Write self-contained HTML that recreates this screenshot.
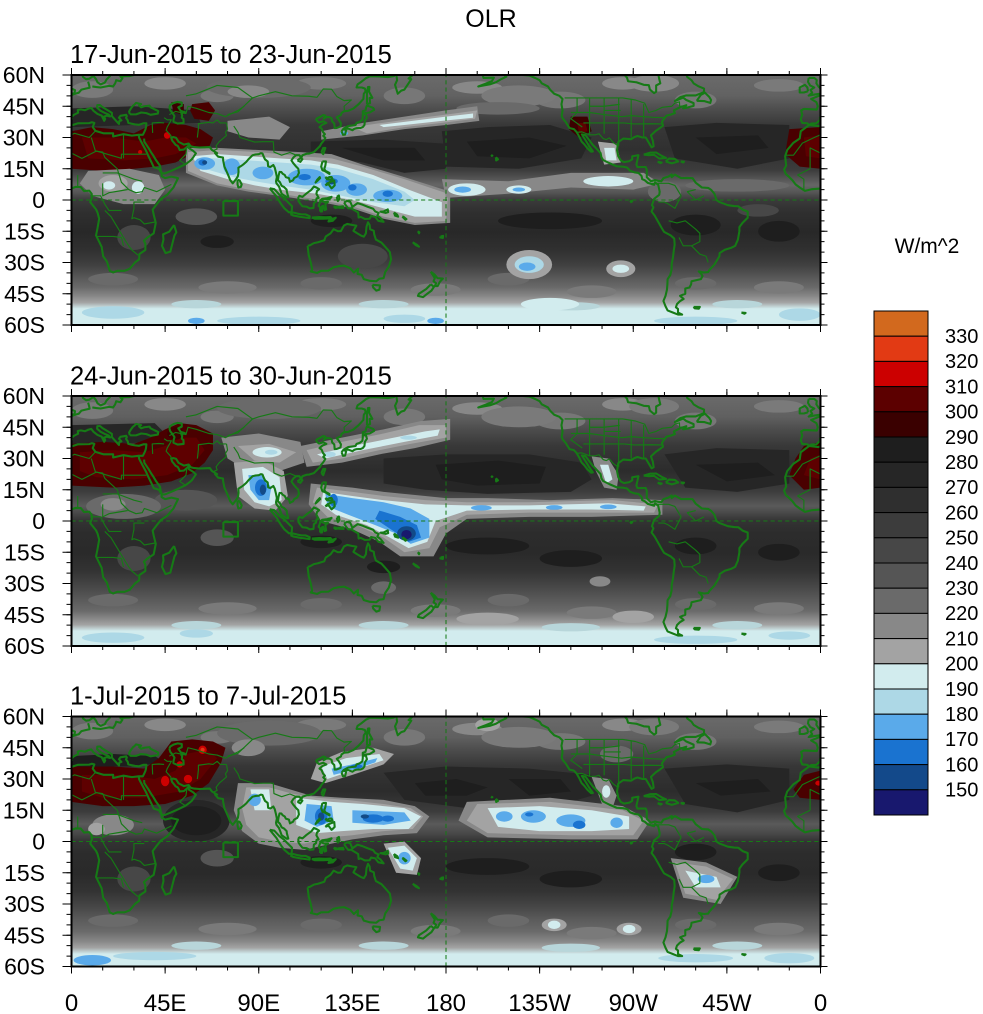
<!DOCTYPE html>
<html><head><meta charset="utf-8"><style>
html,body{margin:0;padding:0;background:#fff;}
svg{display:block;font-family:"Liberation Sans",Arial,sans-serif;}
</style></head><body>
<svg width="983" height="1014" viewBox="0 0 983 1014" xmlns="http://www.w3.org/2000/svg">
<defs>
<linearGradient id="g1" gradientUnits="userSpaceOnUse" x1="0" y1="60" x2="0" y2="-60">
<stop offset="0" stop-color="#6a6a6a"/><stop offset="0.083" stop-color="#626262"/><stop offset="0.13" stop-color="#505050"/>
<stop offset="0.2" stop-color="#383838"/><stop offset="0.3" stop-color="#303030"/><stop offset="0.38" stop-color="#3c3c3c"/>
<stop offset="0.44" stop-color="#666"/><stop offset="0.47" stop-color="#555"/><stop offset="0.5" stop-color="#3a3a3a"/>
<stop offset="0.55" stop-color="#2f2f2f"/><stop offset="0.63" stop-color="#282828"/><stop offset="0.7" stop-color="#303030"/>
<stop offset="0.76" stop-color="#404040"/><stop offset="0.81" stop-color="#585858"/><stop offset="0.85" stop-color="#6a6a6a"/>
<stop offset="0.885" stop-color="#888"/><stop offset="0.91" stop-color="#a3a3a3"/><stop offset="0.935" stop-color="#d2ecee"/><stop offset="1" stop-color="#d2ecee"/>
</linearGradient>
<linearGradient id="g2" gradientUnits="userSpaceOnUse" x1="0" y1="60" x2="0" y2="-60">
<stop offset="0" stop-color="#6a6a6a"/><stop offset="0.083" stop-color="#606060"/><stop offset="0.13" stop-color="#4e4e4e"/>
<stop offset="0.2" stop-color="#383838"/><stop offset="0.3" stop-color="#2c2c2c"/><stop offset="0.38" stop-color="#3c3c3c"/>
<stop offset="0.44" stop-color="#5a5a5a"/><stop offset="0.47" stop-color="#474747"/><stop offset="0.5" stop-color="#333"/>
<stop offset="0.55" stop-color="#2c2c2c"/><stop offset="0.63" stop-color="#2a2a2a"/><stop offset="0.7" stop-color="#333"/>
<stop offset="0.76" stop-color="#464646"/><stop offset="0.81" stop-color="#585858"/><stop offset="0.86" stop-color="#6a6a6a"/>
<stop offset="0.89" stop-color="#888"/><stop offset="0.915" stop-color="#a3a3a3"/><stop offset="0.94" stop-color="#d2ecee"/><stop offset="1" stop-color="#d2ecee"/>
</linearGradient>
<linearGradient id="g3" gradientUnits="userSpaceOnUse" x1="0" y1="60" x2="0" y2="-60">
<stop offset="0" stop-color="#6a6a6a"/><stop offset="0.083" stop-color="#606060"/><stop offset="0.13" stop-color="#4e4e4e"/>
<stop offset="0.2" stop-color="#363636"/><stop offset="0.3" stop-color="#2c2c2c"/><stop offset="0.38" stop-color="#3c3c3c"/>
<stop offset="0.43" stop-color="#5a5a5a"/><stop offset="0.47" stop-color="#474747"/><stop offset="0.5" stop-color="#333"/>
<stop offset="0.55" stop-color="#2c2c2c"/><stop offset="0.63" stop-color="#2a2a2a"/><stop offset="0.7" stop-color="#333"/>
<stop offset="0.76" stop-color="#464646"/><stop offset="0.81" stop-color="#5a5a5a"/><stop offset="0.86" stop-color="#6a6a6a"/>
<stop offset="0.9" stop-color="#888"/><stop offset="0.925" stop-color="#a3a3a3"/><stop offset="0.95" stop-color="#d2ecee"/><stop offset="1" stop-color="#d2ecee"/>
</linearGradient>
<clipPath id="c1"><rect x="71.5" y="75" width="749" height="250"/></clipPath>
<clipPath id="c2"><rect x="71.5" y="396" width="749" height="250"/></clipPath>
<clipPath id="c3"><rect x="71.5" y="716.5" width="749" height="250"/></clipPath>

<g id="tex">
<ellipse cx="10" cy="53" rx="10" ry="4" fill="#7a7a7a"/><ellipse cx="45" cy="56" rx="10" ry="3" fill="#888"/>
<ellipse cx="70" cy="50" rx="8" ry="3" fill="#777"/><ellipse cx="120" cy="56" rx="12" ry="3" fill="#7a7a7a"/>
<ellipse cx="160" cy="50" rx="10" ry="4" fill="#777"/><ellipse cx="195" cy="54" rx="12" ry="3" fill="#888"/>
<ellipse cx="235" cy="48" rx="12" ry="4" fill="#777"/><ellipse cx="265" cy="56" rx="10" ry="3" fill="#888"/>
<ellipse cx="300" cy="48" rx="10" ry="4" fill="#777"/><ellipse cx="340" cy="55" rx="12" ry="3" fill="#7a7a7a"/>
<ellipse cx="20" cy="-38" rx="12" ry="3" fill="#6a6a6a"/><ellipse cx="75" cy="-42" rx="14" ry="3" fill="#7a7a7a"/>
<ellipse cx="120" cy="-40" rx="10" ry="3" fill="#6a6a6a"/><ellipse cx="175" cy="-43" rx="12" ry="3" fill="#7a7a7a"/>
<ellipse cx="210" cy="-38" rx="10" ry="3" fill="#6a6a6a"/><ellipse cx="250" cy="-44" rx="12" ry="3" fill="#7a7a7a"/>
<ellipse cx="300" cy="-40" rx="10" ry="3" fill="#6a6a6a"/><ellipse cx="340" cy="-42" rx="12" ry="3" fill="#7a7a7a"/>
<ellipse cx="60" cy="-50" rx="12" ry="2" fill="#b8d6da"/><ellipse cx="150" cy="-50" rx="12" ry="2" fill="#b8d6da"/>
<ellipse cx="240" cy="-51" rx="14" ry="2" fill="#b8d6da"/><ellipse cx="320" cy="-50" rx="12" ry="2" fill="#b8d6da"/>
</g>

<g id="coast" fill="none" stroke="#167a16" stroke-width="1.0" stroke-linejoin="round">
<polyline points="-5.5,36 -9.5,33 -10,29.5 -13,27.5 -16,24 -17,21 -16.5,16.5 -17.5,14.7 -16.7,12.5 -15,11 -13.5,9.5 -12,7.5 -10,6 -7.5,4.4 -4,5.2 0,5.5 2,6.3 4.5,6.2 6,4.3 8.5,4.5 9.7,3 9.8,1 9,-1 11.8,-4.5 12.5,-6 13.3,-9 12.5,-13.5 11.8,-17 14.5,-22.5 15.2,-27 17,-29.5 18.4,-34 20,-34.8 22,-34 25.5,-34 28,-33 30.5,-30 32.5,-28.5 32.6,-26 35.5,-24 35.5,-21 34.8,-19.5 36.5,-18 39.5,-16 40.5,-11 39.5,-7 39,-4.6 41,-2 43,0.5 46,2.5 49,6 51.2,10.5 48,11.2 45,10.5 43.3,11.5 43.3,12.8 42,15 39.5,15.8 38.5,18 37,21 35.7,23.9 34,27 32.5,29.9 32.3,31.3 29,30.9 25,31.6 20,30.5 20,32 15.5,32 11.5,33.2 10.2,35 11,37 9.8,37.3 8.5,36.9 3,36.8 -1,35.5 -5.5,36"/>
<polyline points="49.3,-12 50.4,-15.5 49.5,-17 47.5,-24.8 45.2,-25.5 43.5,-22 44.2,-19 44,-16.5 47,-15.2 49.3,-12"/>
<polyline points="5.2,60 5.6,59 7,58 8.5,58.2 10.5,59.5 11,59 11.8,58 12.5,56.5 14,55.5 16,56.3 16.8,57.8 18.5,59.5 18,60.5"/>
<polyline points="8,56.8 8.5,55 8.7,53.9 7,53.5 4.8,53 3.5,51.5 1.6,51 -1.5,49.7 -4.5,48.5 -2,47 -1.3,45 -1.8,43.4 -8,43.7 -9.3,43 -8.8,41 -9.5,38.8 -8.8,37 -6.3,36.8 -5.5,36 -4.5,36.7 -2,36.8 -0.5,38.3 0.2,39 -0.3,39.5 1,40.8 3.2,41.9 3,43.2 4.5,43.5 6.5,43.1 8,43.8 9.5,44.2 10.5,42.9 12.5,41.3 14.5,40.5 15.7,38 16.2,38.9 15.6,40 17,40.5 18.5,40.1 17.9,41 16,41.8 14,42.8 12.3,44.3 12.4,45.5 13.7,45.6 15,44.5 17.5,43 19.4,41.8 19.4,40.3 21,38.5 22.8,36.5 23,37.9 24,38.2 22.8,39.5 23.5,40.4 26.3,40.9 26.6,40.3 26.2,39.4 27,38.3 27.3,37 28.5,36.7 30.5,36.3 32.5,36.1 34.5,36.8 36,36.8 35.8,35 35.5,33.8 34.9,32.5 34.3,31.3 32.3,31.3"/>
<polyline points="10,54.5 12,54.2 14,54 18,54.8 20,54.5 21,56 21.5,57.5 23.5,57 24.5,58.5 23.5,59.3 28,59.5 30,60"/>
<polyline points="28,41.2 29,41.1 31,41.1 33.5,42 36,41.7 38,40.9 41.5,41.5 41.7,42.7 40,43.5 38,44.5 37.5,45.3 35,45 33.5,44.5 32.5,45.4 33.5,46 31,46.6 30.3,45.8 29.5,45.2 28.6,44 27.7,42.5 28,41.2"/>
<polyline points="47,44.6 47.5,43 48.5,41.8 49.5,40.3 49,38.5 49,37.6 51,36.7 53.9,37 53.8,38.9 53,39.5 53.2,40.9 52.8,41.5 54.5,42.2 52.5,42.8 51.3,44.5 53,45.3 53,46.8 51,47.1 49,46.5 47.5,45.6 47,44.6"/>
<polyline points="34.9,29.5 35,28 37,25 38.5,22.5 39.2,21.5 40.7,19 42.5,16.5 43,14 43.5,12.7 45,12.8 48,14 52,15.8 55,17.3 56.6,18.5 57.8,19.5 58.5,20.5 59.8,22.4 58.5,23.6 56.4,24.9 56.3,26.2 55.5,25.5 54,24.2 52,24 51.5,25.2 51,26 50,26.5 49.5,27.2 48.4,28.5 47.9,30 49,30.2 50.2,29.9 51.5,27.9 54,26.6 56.3,27.1 57.3,25.8 59,25.4 61.5,25.2 64,25.3 66.5,25.4 67.5,24 68.7,23.3 70,22.5 69,22.5 70.5,20.8 72.8,20.4 72.9,19 73.5,16 74.5,13.8 75.5,11.5 76.3,9.5 77.5,8 78.2,8.9 79.3,10.3 80,11.5 80.3,13.5 80.2,15.5 81.5,16.3 82.5,17 84,18.3 85,19.5 87,21.5 88.2,21.8 89,21.9 90,22 91,22.5 91.8,22.3 92.3,21 93,19.5 94.3,18.5 94.5,16.2 95.5,15.8 97,16.8 97.7,15.5 98.3,13 98.7,11 98.3,9 98.5,8 99.7,6.5 100.3,5 101,3 102.5,2 103.5,1.3 104.2,1.4 103.5,4 103.4,5 102.2,6.2 101,6.8 100.2,8.5 99.2,9.5 99.5,11.5 100,13.5 100.9,13.4 101.5,12.6 102.5,12 103,11 104.5,10.5 105,8.7 106.5,9.5 107,10.5 108.5,11.3 109.3,13 109,15 108,16 106.5,17.8 105.7,19 106.7,20.5 108,21.5 109.5,21.5 110.5,20.3 111,21.5 113,22.2 114.3,22.3 116.5,23 118,24.5 119.5,26 120,27 121,28.2 122,29.8 121,30.8 121.8,31.6 120.9,32.6 120.2,34.3 119.2,35 120.6,36.2 122.5,37 121,37.8 119,37.2 118,38 117.6,38.7 118,39.2 119.5,39.9 121,40.8 122,40.5 121.2,39 122.5,39.8 124,39.8 125,39.2 125.3,37.7 126.3,36.7 126.5,34.5 127.5,34.6 129.3,35.3 129.5,36.8 128.5,38.5 127.5,39.7 129.5,40.8 129.8,41.8 131,42.6 133,42.8 135.5,43.9 138,46 140.3,48.5 140.5,51 141.4,52.2 141,53.5 139.5,54 137,54 137.5,55.5 139,56.5 141.5,58.5 143.5,59.4 148,59.3 152,59 155,59.5 156.5,61"/>
<polyline points="156,61 156.5,57.5 155.5,55.3 156.8,51 158.5,52.5 160,53 162,56 163.3,58 162,58.3 164,60 166,60.3"/>
<polyline points="79.8,9.7 80.8,9.4 81.8,7.5 81.4,6.3 80.2,6 79.8,7.5 79.8,9.7"/>
<polyline points="95.3,5.6 97.5,5.2 100,2.5 102,1 104,-1 106,-3 105.8,-5.8 104.5,-5.9 102.3,-4 101,-2.3 99.5,0 98.5,1.7 97,3.5 95.3,5.6"/>
<polyline points="105.2,-6.8 106.5,-6 108.5,-6.5 110.5,-6.9 112.5,-6.9 114.5,-7.8 114.4,-8.7 110,-8.1 106.5,-7.4 105.2,-6.8"/>
<polyline points="115.5,-8.4 119,-8.2 122,-8.3 124.5,-8.2 125,-8.8 121,-9 117,-9 115.5,-8.4"/>
<polyline points="124,-9.5 127,-8.5 125.5,-10 123.5,-10.3 124,-9.5"/>
<polyline points="109,1.5 109.6,2 111,1.5 113,3.2 115.3,4.9 116.5,6.5 117.7,6 119,5.2 118,4.3 117.7,3 118.8,1 117.8,0.8 117.5,-0.8 116.5,-1.5 116.3,-3.8 114.5,-4 113,-3.2 111,-3 110,-1.8 109.1,-0.5 109,1.5"/>
<polyline points="119.5,-5.5 119.5,-3.5 118.8,-2.8 119.8,0 120.5,0.6 123,0.9 125,1.5 124,0.4 121,0.4 120.2,-0.5 121.5,-1 123.3,-0.9 122,-2 122.4,-4.5 121.6,-4.8 121,-2.8 120.4,-3 120.4,-5.5 119.5,-5.5"/>
<polyline points="127.5,1.5 128.5,2.2 128.8,0.5 128,-0.5 127.5,1.5"/>
<polyline points="126,-3 127,-3.2 128.2,-3.6 126.8,-3.8 126,-3"/>
<polyline points="128,-3.3 130.5,-3 130.8,-3.8 128.5,-3.7 128,-3.3"/>
<polyline points="131,-1.2 132.5,-0.4 134,-0.9 135,-3.3 137.5,-1.5 140,-2.3 142.5,-3.3 145,-4.2 146,-5.5 147.6,-6.2 147,-7.5 148.5,-8.6 150,-10.5 147.5,-10 146,-8.1 144,-7.7 143.3,-9 141,-9.1 139,-8.1 138,-8.4 137.8,-6 134.5,-4 133,-4 132,-2.8 131,-1.2"/>
<polyline points="150,-5.5 152,-4.5 152.2,-5.8 151,-6.2 148.5,-5.6 150,-5.5"/>
<polyline points="155,-6 156.5,-7 157,-8 155.5,-7.5 155,-6"/>
<polyline points="159,-8 160.5,-9.5 161,-9.2 159.5,-8 159,-8"/>
<polyline points="166.5,-15 167.2,-15.5 167,-16 166.5,-15"/>
<polyline points="164,-20.3 166,-21.5 167,-22.4 165.5,-21.7 164,-20.3"/>
<polyline points="177.4,-17.5 178.6,-17.2 178.5,-18.2 177.3,-18 177.4,-17.5"/>
<polyline points="120.6,18.5 122.3,18.5 122,16.5 121.5,15 122,14 124,13 124,12.5 121.7,13.9 120.6,14.3 120,16 120.6,18.5"/>
<polyline points="122,7 123,8 124.5,8.7 126.3,9.3 126.5,7 125.5,6 125,5.6 123.5,7.6 122,7"/>
<polyline points="122,11 123,10.5 124,11 125,11 125.5,10 124,9.8 122.8,10 122,11"/>
<polyline points="118,9 119.5,10.5 119.3,11 118,9.6 117.3,8.4 118,9"/>
<polyline points="120.1,23 121,25 122,25 121,22 120.1,23"/>
<polyline points="108.6,19 110,20.1 111,19.6 110,18.3 108.6,19"/>
<polyline points="129.8,33 130.5,31.3 131.5,31.4 132,33.5 131,34 133,34.3 135,33.5 136,34.2 137,34.5 139,34.6 140,35 140.8,36 141,38 142,39.5 141.5,41.2 140,41.2 140,40 139.8,38.5 138.5,37.5 137,37 136.5,36 133,35.5 130.8,34.3 129.8,33"/>
<polyline points="140,41.5 141,41.7 143.3,42 145.5,43.3 145,44.2 142,45.4 141.6,44.3 141.3,43 140,42.6 140,41.5"/>
<polyline points="142,46 143.5,46.5 143.3,49 144.6,49 143,52 143.2,54.3 142.5,54.2 142,51.5 142,46"/>
<polyline points="113.5,-22 114,-26.5 115,-30 115.7,-33.5 115,-34.3 118,-35 120,-34 123.5,-33.9 126,-32.3 129,-31.7 131,-31.5 134,-32.8 135.7,-34.8 137.7,-33 137.5,-35.5 139.5,-35.9 140.5,-38 143.5,-38.8 146.5,-39 148,-37.8 150,-37.5 150.8,-34.5 152.5,-32 153.6,-28.5 153,-25 150.8,-22.5 149,-20.5 146.3,-19 145.5,-16.5 145.3,-14.8 143.5,-14 143.3,-12 142.5,-10.7 141.8,-12.8 141.5,-16 140.5,-17.6 139,-17 137,-15.8 135.5,-14.8 136.9,-12.3 135,-12 132.5,-11.5 131,-12.2 129.5,-14.9 128,-15 126,-14 124.5,-16 122.2,-17.5 121.5,-19.3 118.5,-20.3 116.5,-20.7 114.5,-21.8 113.5,-22"/>
<polyline points="144.7,-40.7 148.3,-41 148,-43 146.5,-43.5 145,-42 144.7,-40.7"/>
<polyline points="172.7,-34.4 174.5,-35.8 175.9,-37.5 178.5,-37.7 177,-39.3 176,-41.3 174.6,-41.3 175.3,-40 174,-39 174.6,-37.5 173,-35 172.7,-34.4"/>
<polyline points="172.7,-40.5 174.2,-41.7 173,-43.5 171,-45 169,-46.6 166.5,-46 167,-45 170.5,-42.7 172.7,-40.5"/>
<polyline points="-152,60 -151,59.2 -153.5,58 -156,56.5 -159,55.5 -162,55 -164.5,54.5 -161,55.8 -158,57 -157,58.7 -162,58.6 -162.3,60"/>
<polyline points="-148,60.5 -146,60.8 -143,60 -140,59.8 -137,58.5 -135,57.5 -134,56 -131,54.5 -130,53 -128,51 -125.5,50 -124,48.5 -124.5,46 -124,43 -124.4,40.3 -123.8,39 -122.5,37.5 -121.9,36.5 -120.6,34.5 -118.5,34 -117.2,32.6 -116,30.5 -114.8,28 -113.5,26.7 -112,24.8 -110.3,23.2 -109.4,23.3 -110,24.2 -111.3,26 -112.8,28.5 -114.7,31.5 -113,31.2 -111,28.5 -109.5,26.5 -108,25 -105.7,22.5 -105.3,20.5 -104.5,19.2 -101.5,17.7 -98,16.2 -95,16 -93,15.6 -91.5,14 -89.5,13.3 -87.5,13 -86,11.5 -85.7,10 -84.5,9.5 -83,8.2 -80,7.3 -79.5,8.5 -78,7.3 -77.3,4 -77.5,2.5 -78.8,1.5 -80,0.5 -80.5,-1 -81,-2.5 -80.3,-3.5 -81.2,-5.5 -79.7,-7.5 -78,-10.5 -76.3,-13.5 -75.2,-15.3 -72,-17 -70.3,-18.5 -70.1,-21.5 -70.5,-24 -70.9,-27.5 -71.5,-30.5 -71.6,-33.5 -72.2,-36 -73.5,-38 -73.6,-40.5 -73.8,-43 -74.5,-46 -75.5,-48.5 -74.5,-51 -73.5,-53 -71,-54 -68.5,-55 -66.5,-55 -68.5,-54 -68.5,-52.3 -69.5,-51.5 -69,-50 -67.5,-48.5 -65.8,-47.5 -67.5,-46 -65,-45 -65,-42.5 -63,-42 -62.2,-40.5 -62,-39 -57.5,-38 -56.7,-36.5 -57.5,-35.2 -58.5,-34.3 -56,-34.8 -54,-34.6 -53.5,-33.7 -51,-31 -48.6,-27 -48.5,-25.5 -46,-23.9 -43,-23 -41,-22 -39.7,-19 -39,-15 -39,-13 -37.5,-11 -35,-8.5 -35,-5.5 -37.3,-4.7 -39.5,-3 -41.5,-2.9 -44.5,-2.5 -48.5,-1 -50,0 -51,3 -52.5,4.8 -54,5.8 -57,6 -60,8.3 -61.5,10.5 -64,10.6 -67,10.5 -70,12.2 -71.5,11 -71.5,12.3 -73,11.3 -75.5,10.5 -76.5,9 -78,9.2 -79.5,9.6 -81.5,9 -83.5,10.9 -83.5,14.5 -84,15.8 -88,15.8 -88.5,17 -87.5,21.5 -90.5,21 -90.5,19.5 -92,18.6 -94.5,18.2 -96,19 -97.2,21 -97.8,24 -97.2,27.8 -94.8,29.5 -91,29.2 -89.5,30.2 -88,30.7 -85.5,30 -84,30 -82.8,28 -81.2,25.3 -80.2,25.8 -80.6,28.5 -81.5,31 -79.2,33.2 -77,34.7 -75.7,35.7 -76.2,37.5 -75.5,38.6 -74,40.5 -72,41 -70,41.7 -70.5,43 -67,44.8 -66,45 -64.5,45.5 -66,44 -63.5,44.5 -61,45.2 -61,46.5 -64.5,48 -66,49.2 -70,47.5 -67.5,49.3 -64.5,50.2 -60,50.2 -56,51.8 -56,53.5 -58.5,54.5 -61,56 -62,57.5 -64,59 -64.5,60.3"/>
<polyline points="-94.5,60.5 -93,58.7 -92.5,57 -88.5,56.5 -85,55.3 -82.5,55.1 -82,53 -80,51.3 -79,52 -79,55 -77,56 -77.5,58 -78,60.5"/>
<polyline points="-59.5,47.6 -56,47.5 -53,46.6 -52.6,48 -53.5,49.5 -55.5,51.5 -57.5,50.5 -59.5,47.6"/>
<polyline points="-85,21.8 -82,22.7 -79,22.8 -76,21 -74.2,20.2 -77.5,19.9 -80,21.7 -82.5,21.5 -85,21.8"/>
<polyline points="-74.4,18.5 -72.8,19.9 -70,19.7 -68.4,18.5 -71.5,17.6 -74.4,18.5"/>
<polyline points="-78.3,18.4 -76.3,18 -77,17.7 -78.3,18.4"/>
<polyline points="-67.2,18.5 -65.6,18.4 -66,18 -67.2,18.5"/>
<polyline points="-5.7,58.6 -6,56.7 -5,55 -3,54 -4.8,52.8 -4,51.5 -5.7,50.1 -3,50.6 1.4,51.2 1.7,52.7 0,53.5 -1,54.5 -2,56 -1.8,57.6 -3,58.6 -5.7,58.6"/>
<polyline points="-6,52.2 -6.3,54 -7.5,55.3 -10,54 -10,51.6 -8,51.6 -6,52.2"/>
<polyline points="-156,20.5 -155,19.5 -155.9,19 -156,20.5"/>
<polyline points="-158.3,21.6 -157.7,21.3 -158,21.2 -158.3,21.6"/>
<polyline points="-91.5,-0.3 -90.5,-0.6 -91,-1 -91.5,-0.3"/>
<polyline points="-61,-51.3 -58,-51.3 -58.5,-52.2 -60.5,-52 -61,-51.3"/>
<polyline points="-38,-54 -36,-54.2 -36.5,-54.6 -38,-54"/>
<polyline points="73,-0.5 80,-0.5 80,-7.5 73,-7.5 73,-0.5"/>
<g stroke-width="0.55">
<polyline points="-123,49 -95,49 -89,48 -84.5,46.5 -82.5,42 -79,43 -76,44.5 -71.5,45 -70,46.5 -67.8,47.1 -67.7,45"/>
<polyline points="-117,32.5 -114.7,32.7 -111,31.3 -108.2,31.3 -106.5,31.8 -104.5,29.5 -103,29 -101.5,29.8 -99.5,27.5 -97.2,25.9"/>
<polyline points="-111,49 -111,31.3"/><polyline points="-104,49 -104,31.8"/><polyline points="-97,49 -97,26"/>
<polyline points="-120,42 -111,42 -104,41 -95.5,40 -91,40.5 -80.5,39.7 -75,39.5"/>
<polyline points="-114,37 -103,37 -94.6,37 -89.5,36.5 -81.7,36.6 -75.8,36.5"/>
<polyline points="-117,49 -117,42 -120,39 -114.5,35"/><polyline points="-111,45 -104,45 -96.5,45.9"/><polyline points="-104,43 -96,43"/>
<polyline points="-91,48.5 -91,30"/><polyline points="-85,46 -85,30.5"/>
<polyline points="-17,21.5 -13,21.5 -8.7,27.3 -3,30 1.5,32 8.5,30 9.5,31 11.5,33.2"/>
<polyline points="-5,15 -5,25 5,20 12,23.5 24,20 24,22 25,22 36,22"/>
<polyline points="9.5,30 11.5,23.5 15,23 16,20.5 22,15 24,8.5 27.5,5 31,3.5 34,4 35,6 41,4 48,7.5"/>
<polyline points="16,-5 19,-8 22,-13 25,-18 27.5,-22 29,-24 32,-26.5"/><polyline points="12,-17.5 20,-17.5 24,-18 25,-22"/>
<polyline points="15,13 22,13 30,10 34,9"/><polyline points="3,12 3,6.5"/><polyline points="-8,5 -8,10 -11,12 -5,15"/>
<polyline points="35,-1 30,-1 30,-4 29,-9 30,-8.5 33,-9.5 35,-11.5 40.5,-10.5"/>
<polyline points="25,20 25,31.5"/><polyline points="15,8 15,2 18,3.5 24,4.5 27,5"/><polyline points="9,2 14,2 16,-2 18,-5 24,-5"/>
<polyline points="44.5,39.5 46,38.5 48,38.5 46,35 45.5,33.5 47.7,31 48,30"/><polyline points="39,32.2 38.8,37 42,37.2 44.5,37"/>
<polyline points="55,17 52,19 55,22 55.5,25.5"/><polyline points="60.5,30 61,34.5 61,36.6 66,37.3 68,37 70,38.5 71.5,37 74.5,37"/>
<polyline points="74.5,37 75,34 74,32.5 74.5,31 71,28 69.5,26 70,24.5 68.2,23.7"/>
<polyline points="78,35.5 80,32.5 81,30 88,27.8 92,28 97,28 97.3,23 101,21.5 105,22.8 108,21.5"/>
<polyline points="75,41 80,42.3 87,49 90,50 98,52 106,50 114,49.8 118,49.3 121,53.3 125,53.2 127.5,49.7 131,47.7 134.5,48 131,45 131.2,43"/>
<polyline points="47,41 50,42.5 55,41.5 56,45 60,44 66,42 70,41.5 74,40 80,43 83,45"/><polyline points="55,50 60,51 70,55 80,54 87,49"/>
<polyline points="-81,8 -77,8 -73,8 -70,7 -67,2 -70,-4 -73,-2 -75,-1 -78,-1"/><polyline points="-60,5 -64,4 -60,-0 -56,2"/>
<polyline points="-73,-10 -69,-11 -65,-10 -60,-14 -58,-16 -58,-20 -62,-22 -66,-22 -68,-18"/><polyline points="-62,-22 -58,-26 -55,-27 -54,-30"/>
</g>
</g>
</defs>

<rect width="983" height="1014" fill="#fff"/>

<!-- ============ PANEL 1 ============ -->
<g clip-path="url(#c1)">
<g transform="translate(71.5,200) scale(2.0806,-2.0833)">
<rect x="0" y="-60" width="360" height="120" fill="url(#g1)"/>
<use href="#tex"/>
<ellipse cx="90" cy="54" rx="25" ry="5" fill="#6a6a6a"/><ellipse cx="85" cy="52" rx="10" ry="3" fill="#888"/>
<ellipse cx="215" cy="50" rx="18" ry="5" fill="#7a7a7a"/><ellipse cx="280" cy="56" rx="12" ry="4" fill="#888"/>
<ellipse cx="205" cy="44" rx="20" ry="3" fill="#6a6a6a"/>
<polygon fill="#262626" points="0,44 30,45 60,43 62,37 30,36 0,35"/>
<polygon fill="#262626" points="178,33 200,35 230,36 250,30 245,20 215,15 180,16"/>
<polygon fill="#1e1e1e" points="190,28 220,30 238,26 220,20 195,21"/>
<polygon fill="#262626" points="285,35 310,37 345,36 345,20 320,15 290,20"/>
<polygon fill="#1e1e1e" points="300,30 330,31 335,25 310,22"/>
<polygon fill="#262626" points="115,28 150,29 180,27 180,15 160,13 140,18 115,22"/>
<polygon fill="#1e1e1e" points="130,25 165,25 170,19 150,19"/>
<ellipse cx="70" cy="-20" rx="8" ry="3" fill="#1e1e1e"/><ellipse cx="125" cy="-10" rx="10" ry="3" fill="#1e1e1e"/>
<ellipse cx="230" cy="-10" rx="25" ry="4" fill="#1e1e1e"/><ellipse cx="300" cy="-12" rx="12" ry="5" fill="#1e1e1e"/><ellipse cx="340" cy="-15" rx="10" ry="5" fill="#1e1e1e"/>
<ellipse cx="60" cy="-8" rx="10" ry="4" fill="#555"/><ellipse cx="30" cy="-18" rx="8" ry="6" fill="#474747"/><ellipse cx="140" cy="-27" rx="12" ry="6" fill="#474747"/>
<ellipse cx="330" cy="-5" rx="10" ry="3" fill="#474747"/>
<polygon fill="#4a0000" points="0,33 10,35 20,34 30,32 38,36 45,37 55,36 62,34 68,30 66,25 58,22 50,18 40,16 30,15 15,14 0,15"/>
<polygon fill="#5e0000" points="5,30 20,30 35,28 45,30 55,30 60,27 50,22 40,20 25,19 8,20"/>
<ellipse cx="46" cy="31" rx="1.6" ry="1.6" fill="#cc0000"/><ellipse cx="33" cy="23" rx="1" ry="1" fill="#cc0000"/>
<polygon fill="#4a0000" points="58,46 66,47 69,43 66,38 59,39 57,43"/>
<polygon fill="#3c0000" points="48,47 54,46 54,41 49,42"/>
<polygon fill="#4a0000" points="345,34 360,35 360,15 350,16 343,22"/>
<polygon fill="#5e0000" points="352,30 360,31 360,20 353,21"/>
<polygon fill="#3c0000" points="240,40 248,40 250,33 244,30 239,34"/>
<polygon fill="#5e0000" points="243,37 247,37 248,33 244,32"/>
<polygon fill="#888" points="75,38 95,40 105,35 100,29 85,30 75,33"/>
<polygon fill="#888" points="8,14 28,15 42,12 45,5 40,-2 25,-2 10,2 4,8"/>
<ellipse cx="20" cy="8" rx="7" ry="4" fill="#a3a3a3"/><ellipse cx="32" cy="6" rx="3" ry="3" fill="#d2ecee"/><ellipse cx="18" cy="7" rx="3" ry="2" fill="#d2ecee"/>
<polygon fill="#888" points="55,25 70,25 90,24 110,23 125,22 140,17 160,11 182,4 182,-11 165,-12 150,-9 135,-4 120,-1 100,2 85,4 70,7 55,13"/>
<polygon fill="#a3a3a3" points="56,23 70,24 90,23 110,21 125,20 140,16 160,10 181,3 180,-10 165,-11 150,-8 135,-3 120,0 100,3 85,5 70,8 56,14"/>
<polygon fill="#d2ecee" points="58,21 70,22 85,21 100,20 115,19 128,17 145,12 162,5 178,-1 178,-8 165,-8 150,-4 135,0 118,3 100,5 88,7 75,10 62,14"/>
<polygon fill="#add8e6" points="60,20 70,20 85,19 100,18 115,17 128,15 145,10 160,4 165,0 160,-3 145,-1 130,2 115,5 100,7 88,9 78,11 64,15"/>
<ellipse cx="64" cy="17.5" rx="5" ry="3" fill="#5aaaea"/><ellipse cx="77" cy="16" rx="4" ry="4" fill="#5aaaea"/><ellipse cx="92" cy="13" rx="5" ry="3" fill="#5aaaea"/>
<ellipse cx="113" cy="11" rx="9" ry="4" fill="#5aaaea"/><ellipse cx="127" cy="8" rx="7" ry="4" fill="#5aaaea"/><ellipse cx="137" cy="5" rx="5" ry="3" fill="#5aaaea"/><ellipse cx="152" cy="2" rx="7" ry="3" fill="#5aaaea"/>
<ellipse cx="63" cy="18" rx="2" ry="1.5" fill="#1a73d0"/><ellipse cx="112" cy="11" rx="3" ry="1.5" fill="#1a73d0"/><ellipse cx="125" cy="9" rx="3" ry="1.5" fill="#1a73d0"/>
<ellipse cx="135" cy="6" rx="2" ry="1.5" fill="#1a73d0"/><ellipse cx="152" cy="3" rx="2.5" ry="1.5" fill="#1a73d0"/>
<ellipse cx="64" cy="18" rx="1.2" ry="1" fill="#124a87"/><ellipse cx="125" cy="8.5" rx="1.2" ry="1" fill="#124a87"/>
<polygon fill="#888" points="120,33 140,37 160,40 180,43 195,45 196,38 180,36 160,34 140,31 120,29"/>
<polygon fill="#a3a3a3" points="135,35 160,38.5 180,41 195,43 194,39 178,37 160,35 142,32"/>
<polygon fill="#d2ecee" points="148,36 160,37.5 180,40 193,41.5 193,39.5 178,38 160,36 150,35"/>
<ellipse cx="131" cy="32" rx="2" ry="1" fill="#5aaaea"/>
<polygon fill="#888" points="178,10 210,9 240,13 275,13 283,8 270,5 240,6 210,3 180,1"/>
<ellipse cx="190" cy="5" rx="9" ry="3" fill="#d2ecee"/><ellipse cx="215" cy="5" rx="6" ry="2" fill="#d2ecee"/><ellipse cx="258" cy="9" rx="12" ry="2.5" fill="#d2ecee"/>
<ellipse cx="188" cy="5" rx="4" ry="1.5" fill="#5aaaea"/><ellipse cx="215" cy="5" rx="3" ry="1" fill="#5aaaea"/>
<ellipse cx="320" cy="7" rx="25" ry="3" fill="#6a6a6a"/><ellipse cx="285" cy="4" rx="8" ry="5" fill="#6a6a6a"/>
<polygon fill="#a3a3a3" points="253,28 262,27 264,18 256,17"/><polygon fill="#d2ecee" points="256,25 261,25 262,19 257,19"/>
<ellipse cx="220" cy="-31" rx="11" ry="7" fill="#a3a3a3"/><ellipse cx="220" cy="-31" rx="7" ry="4" fill="#add8e6"/><ellipse cx="219" cy="-32" rx="4" ry="2" fill="#5aaaea"/>
<ellipse cx="264" cy="-33" rx="7" ry="4" fill="#a3a3a3"/><ellipse cx="264" cy="-33" rx="4" ry="2" fill="#d2ecee"/>
<ellipse cx="20" cy="-54" rx="15" ry="3" fill="#add8e6"/><ellipse cx="90" cy="-58" rx="20" ry="2" fill="#add8e6"/><ellipse cx="160" cy="-57" rx="10" ry="2" fill="#add8e6"/>
<ellipse cx="300" cy="-58" rx="20" ry="2" fill="#add8e6"/><ellipse cx="350" cy="-55" rx="10" ry="3" fill="#add8e6"/><ellipse cx="60" cy="-58" rx="4" ry="1.5" fill="#5aaaea"/><ellipse cx="175" cy="-58" rx="4" ry="1.5" fill="#5aaaea"/>
<ellipse cx="230" cy="-50" rx="14" ry="3" fill="#d2ecee"/>
<use href="#coast"/><use href="#coast" transform="translate(360,0)"/>
<line x1="180" y1="-60" x2="180" y2="60" stroke="#167a16" stroke-width="0.5" stroke-dasharray="2 1.5"/>
<line x1="0" y1="0" x2="360" y2="0" stroke="#167a16" stroke-width="0.5" stroke-dasharray="2 1.5"/>
</g>
</g>

<!-- ============ PANEL 2 ============ -->
<g clip-path="url(#c2)">
<g transform="translate(71.5,521) scale(2.0806,-2.0833)">
<rect x="0" y="-60" width="360" height="120" fill="url(#g2)"/>
<use href="#tex"/>
<ellipse cx="95" cy="54" rx="25" ry="5" fill="#6a6a6a"/>
<ellipse cx="215" cy="50" rx="18" ry="5" fill="#7a7a7a"/><ellipse cx="280" cy="55" rx="12" ry="4" fill="#7a7a7a"/>
<polygon fill="#262626" points="0,46 40,47 45,42 40,38 20,37 0,37"/>
<polygon fill="#262626" points="150,30 180,32 220,32 245,28 250,20 240,14 200,13 170,15 150,18"/>
<polygon fill="#1e1e1e" points="175,27 205,29 228,26 225,18 195,17 178,20"/>
<polygon fill="#262626" points="285,32 310,35 345,34 345,18 320,14 295,16"/>
<polygon fill="#1e1e1e" points="300,27 330,28 338,22 315,19"/>
<ellipse cx="120" cy="-10" rx="10" ry="3" fill="#1e1e1e"/><ellipse cx="150" cy="-22" rx="8" ry="3" fill="#1e1e1e"/><ellipse cx="200" cy="-12" rx="20" ry="4" fill="#1e1e1e"/>
<ellipse cx="240" cy="-18" rx="15" ry="4" fill="#1e1e1e"/><ellipse cx="300" cy="-12" rx="10" ry="4" fill="#1e1e1e"/><ellipse cx="340" cy="-15" rx="10" ry="4" fill="#1e1e1e"/>
<ellipse cx="55" cy="10" rx="15" ry="5" fill="#555"/><ellipse cx="25" cy="7" rx="18" ry="6" fill="#6a6a6a"/><ellipse cx="20" cy="8" rx="6" ry="3" fill="#888"/>
<ellipse cx="70" cy="-8" rx="8" ry="4" fill="#555"/><ellipse cx="30" cy="-18" rx="8" ry="6" fill="#474747"/>
<polygon fill="#4a0000" points="0,37 15,38 30,37 38,40 45,44 52,47 60,46 68,42 68,34 64,28 58,23 48,19 35,17 20,16 0,17"/>
<polygon fill="#5e0000" points="4,33 20,34 35,33 45,36 52,40 60,40 64,34 58,27 46,22 30,20 12,21 4,24"/>
<ellipse cx="50" cy="42" rx="4" ry="3" fill="#3c0000"/>
<polygon fill="#4a0000" points="345,22 348,30 352,36 360,38 360,16 352,15"/>
<polygon fill="#5e0000" points="352,22 355,30 360,32 360,20"/>
<polygon fill="#888" points="72,40 90,42 110,38 112,28 100,24 85,24 75,30"/>
<polygon fill="#a3a3a3" points="80,36 95,37 108,33 100,28 88,29"/>
<ellipse cx="94" cy="33" rx="7" ry="2.5" fill="#d2ecee"/><ellipse cx="96" cy="33" rx="3" ry="1.2" fill="#add8e6"/>
<polygon fill="#a3a3a3" points="78,28 92,29 102,24 104,12 98,5 88,6 80,12"/>
<polygon fill="#d2ecee" points="82,25 92,26 100,21 101,10 95,7 88,9 83,15"/>
<polygon fill="#5aaaea" points="85,22 92,22 96,16 95,10 90,10 86,15"/>
<ellipse cx="91" cy="16" rx="2.8" ry="4" fill="#1a73d0"/><ellipse cx="92" cy="15" rx="1.5" ry="2.5" fill="#124a87"/>
<polygon fill="#888" points="110,36 130,40 150,44 168,48 182,49 182,39 165,35 148,32 130,28 113,26"/>
<polygon fill="#a3a3a3" points="113,34 130,38 150,42 167,46 180,46 180,40 163,37 148,34 130,30 116,28"/>
<polygon fill="#d2ecee" points="118,32 135,36 155,40 170,43 177,44 176,41 160,38 140,34 122,30"/>
<ellipse cx="124" cy="32" rx="3" ry="1.3" fill="#add8e6"/><ellipse cx="162" cy="40" rx="4" ry="1" fill="#add8e6"/>
<polygon fill="#888" points="115,18 135,16 150,14 170,12 180,11 200,11 230,10 260,11 284,10 284,3 250,2 220,2 190,1 180,-6 174,-17 158,-17 148,-10 135,-4 120,0 114,8"/>
<polygon fill="#a3a3a3" points="118,16 135,14 150,12 170,10 190,9 220,9 260,10 282,8 280,4 250,4 220,4 190,3 177,-3 172,-13 160,-15 150,-8 137,-2 123,2 116,9"/>
<polygon fill="#d2ecee" points="121,14 135,12 150,10 170,8 190,7.5 220,7.5 258,8.5 276,7 275,5 250,5.5 220,5.5 190,5 175,0 171,-10 162,-13 153,-8 142,-2 127,3 120,8"/>
<polygon fill="#5aaaea" points="122,13 135,11 150,9 163,6 172,1 172,-8 163,-11 156,-6 146,-2 133,3 123,7"/>
<ellipse cx="197" cy="6.3" rx="5" ry="1.3" fill="#5aaaea"/><ellipse cx="232" cy="6.5" rx="4" ry="1.1" fill="#5aaaea"/><ellipse cx="258" cy="6.8" rx="4" ry="1.1" fill="#5aaaea"/>
<polygon fill="#1a73d0" points="148,5 158,2 166,-2 168,-8 162,-10 155,-5 146,1"/>
<ellipse cx="126" cy="10" rx="2" ry="3" fill="#1a73d0"/>
<ellipse cx="161" cy="-6" rx="4.5" ry="3.5" fill="#124a87"/><ellipse cx="161" cy="-6.5" rx="2.5" ry="2.2" fill="#18186e"/>
<polygon fill="#888" points="250,31 258,30 263,22 262,15 256,16 252,24"/><polygon fill="#d2ecee" points="254,27 258,27 260,20 257,18"/>
<ellipse cx="254" cy="-29" rx="5" ry="2.5" fill="#888"/><ellipse cx="150" cy="-32" rx="6" ry="3" fill="#6a6a6a"/>
<ellipse cx="20" cy="-56" rx="15" ry="2.5" fill="#add8e6"/><ellipse cx="60" cy="-54" rx="8" ry="2" fill="#add8e6"/><ellipse cx="300" cy="-57" rx="20" ry="2" fill="#add8e6"/><ellipse cx="345" cy="-55" rx="10" ry="2" fill="#add8e6"/>
<ellipse cx="200" cy="-47" rx="15" ry="3" fill="#a3a3a3"/><ellipse cx="270" cy="-46" rx="10" ry="3" fill="#a3a3a3"/>
<use href="#coast"/><use href="#coast" transform="translate(360,0)"/>
<line x1="180" y1="-60" x2="180" y2="60" stroke="#167a16" stroke-width="0.5" stroke-dasharray="2 1.5"/>
<line x1="0" y1="0" x2="360" y2="0" stroke="#167a16" stroke-width="0.5" stroke-dasharray="2 1.5"/>
</g>
</g>

<!-- ============ PANEL 3 ============ -->
<g clip-path="url(#c3)">
<g transform="translate(71.5,841.5) scale(2.0806,-2.0833)">
<rect x="0" y="-60" width="360" height="120" fill="url(#g3)"/>
<use href="#tex"/>
<ellipse cx="95" cy="52" rx="25" ry="6" fill="#6a6a6a"/><ellipse cx="85" cy="45" rx="8" ry="4" fill="#888"/>
<ellipse cx="215" cy="50" rx="18" ry="5" fill="#7a7a7a"/><ellipse cx="200" cy="56" rx="6" ry="3" fill="#a3a3a3"/><ellipse cx="280" cy="55" rx="12" ry="4" fill="#7a7a7a"/>
<ellipse cx="262" cy="42" rx="8" ry="4" fill="#6a6a6a"/>
<polygon fill="#1e1e1e" points="0,41 20,42 40,41 45,38 30,36 0,36"/>
<polygon fill="#262626" points="150,33 180,36 220,35 250,32 250,22 230,16 190,16 160,20"/>
<polygon fill="#1e1e1e" points="165,28 185,30 200,26 190,22 170,22"/><polygon fill="#1e1e1e" points="210,30 235,30 240,24 220,22"/>
<polygon fill="#262626" points="285,35 315,37 345,35 345,20 320,14 295,18"/>
<polygon fill="#1e1e1e" points="300,28 330,30 336,24 312,22"/>
<ellipse cx="60" cy="10" rx="16" ry="10" fill="#262626"/><ellipse cx="60" cy="10" rx="12" ry="7" fill="#1e1e1e"/>
<ellipse cx="20" cy="8" rx="10" ry="5" fill="#888"/><ellipse cx="12" cy="6" rx="4" ry="3" fill="#a3a3a3"/>
<ellipse cx="120" cy="-10" rx="10" ry="3" fill="#1e1e1e"/><ellipse cx="200" cy="-12" rx="20" ry="4" fill="#1e1e1e"/><ellipse cx="240" cy="-18" rx="15" ry="4" fill="#1e1e1e"/>
<ellipse cx="300" cy="-5" rx="10" ry="4" fill="#1e1e1e"/><ellipse cx="340" cy="-15" rx="10" ry="4" fill="#1e1e1e"/>
<ellipse cx="70" cy="-8" rx="8" ry="4" fill="#555"/><ellipse cx="30" cy="-18" rx="8" ry="6" fill="#474747"/>
<polygon fill="#4a0000" points="0,36 20,36 35,35 42,40 48,48 58,49 68,48 74,45 72,38 66,28 58,22 45,18 30,17 15,17 0,19"/>
<polygon fill="#5e0000" points="5,32 25,32 40,30 50,34 55,42 65,44 70,40 62,30 52,24 35,21 15,21 5,24"/>
<ellipse cx="45" cy="29" rx="2" ry="2.5" fill="#cc0000"/><ellipse cx="63" cy="44" rx="2" ry="2" fill="#cc0000"/><ellipse cx="56" cy="30" rx="2" ry="2" fill="#cc0000"/><ellipse cx="52" cy="37" rx="1.5" ry="1.5" fill="#cc0000"/>
<ellipse cx="63" cy="44" rx="1" ry="1" fill="#e0391a"/>
<polygon fill="#4a0000" points="347,25 352,32 360,34 360,20 350,21"/><ellipse cx="359" cy="28" rx="1.5" ry="1.2" fill="#cc0000"/>
<polygon fill="#a3a3a3" points="118,38 130,43 145,45 155,42 150,37 135,32 122,28 115,30"/>
<polygon fill="#d2ecee" points="120,36 132,40 148,42 150,39 135,34 123,30"/>
<polygon fill="#5aaaea" points="125,35 135,37 147,40 146,38 134,34 126,32"/>
<ellipse cx="137" cy="36" rx="3" ry="1" fill="#1a73d0"/>
<polygon fill="#888" points="80,28 95,28 105,25 115,22 130,21 150,20 165,17 172,12 166,4 150,3 135,1 125,-1 112,-4 100,-3 90,-1 82,5 78,15"/>
<polygon fill="#a3a3a3" points="84,26 95,26 106,23 118,21 132,20 150,18 163,16 169,12 164,6 150,5 135,3 124,2 112,-1 100,0 90,2 84,8 82,16"/>
<polygon fill="#d2ecee" points="108,21 125,19 140,18 160,16 168,12 162,6 145,6 130,5 118,4 108,8"/>
<polygon fill="#d2ecee" points="86,25 95,25 96,15 88,15"/>
<polygon fill="#5aaaea" points="113,18 125,17 126,10 118,7 112,10"/>
<polygon fill="#5aaaea" points="135,15 160,14 163,10 150,8 135,9"/>
<ellipse cx="88" cy="20" rx="3" ry="3" fill="#5aaaea"/>
<ellipse cx="120" cy="12" rx="3" ry="4" fill="#1a73d0"/><ellipse cx="145" cy="11" rx="5" ry="2" fill="#1a73d0"/><ellipse cx="152" cy="11" rx="3" ry="1.5" fill="#1a73d0"/>
<ellipse cx="120" cy="12" rx="1.5" ry="2" fill="#124a87"/><ellipse cx="141" cy="12" rx="2" ry="1" fill="#124a87"/>
<polygon fill="#a3a3a3" points="150,-1 160,0 168,-8 166,-16 156,-15"/>
<polygon fill="#d2ecee" points="152,-3 160,-2 166,-8 164,-14 158,-13"/>
<ellipse cx="160" cy="-8" rx="3" ry="3" fill="#5aaaea"/>
<polygon fill="#888" points="190,19 230,21 265,17 278,10 272,1 240,1 200,2 186,10"/>
<polygon fill="#a3a3a3" points="195,18 230,19 265,15 275,10 270,3 240,3 200,4 190,10"/>
<polygon fill="#d2ecee" points="200,16 225,17 250,15 268,12 268,6 250,5 225,5 205,7"/>
<ellipse cx="208" cy="12" rx="4" ry="2.5" fill="#5aaaea"/><ellipse cx="222" cy="12" rx="6" ry="3" fill="#5aaaea"/><ellipse cx="240" cy="10" rx="7" ry="3" fill="#5aaaea"/><ellipse cx="262" cy="9" rx="3" ry="2.5" fill="#5aaaea"/>
<ellipse cx="220" cy="13" rx="2" ry="1" fill="#1a73d0"/><ellipse cx="244" cy="8" rx="3" ry="2" fill="#1a73d0"/>
<polygon fill="#888" points="288,-8 305,-10 320,-17 312,-30 294,-27"/>
<polygon fill="#a3a3a3" points="290,-10 305,-12 318,-18 310,-28 295,-25"/>
<polygon fill="#d2ecee" points="295,-14 310,-17 312,-22 300,-22"/>
<ellipse cx="305" cy="-18" rx="4" ry="2" fill="#5aaaea"/>
<polygon fill="#888" points="250,31 258,30 262,22 260,16 255,18"/><ellipse cx="257" cy="24" rx="2" ry="3" fill="#d2ecee"/>
<ellipse cx="232" cy="-40" rx="6" ry="3" fill="#a3a3a3"/><ellipse cx="232" cy="-40" rx="3" ry="2" fill="#d2ecee"/>
<ellipse cx="268" cy="-42" rx="6" ry="3" fill="#a3a3a3"/><ellipse cx="268" cy="-42" rx="3" ry="2" fill="#d2ecee"/>
<ellipse cx="10" cy="-57" rx="9" ry="2.5" fill="#5aaaea"/><ellipse cx="40" cy="-55" rx="20" ry="2" fill="#add8e6"/><ellipse cx="300" cy="-56" rx="18" ry="2" fill="#add8e6"/>
<ellipse cx="345" cy="-56" rx="12" ry="2.5" fill="#add8e6"/>
<use href="#coast"/><use href="#coast" transform="translate(360,0)"/>
<line x1="180" y1="-60" x2="180" y2="60" stroke="#167a16" stroke-width="0.5" stroke-dasharray="2 1.5"/>
<line x1="0" y1="0" x2="360" y2="0" stroke="#167a16" stroke-width="0.5" stroke-dasharray="2 1.5"/>
</g>
</g>

<!-- frames and ticks -->
<g fill="none" stroke="#000">
<rect x="71.5" y="75" width="749" height="250" stroke-width="2"/>
<rect x="71.5" y="396" width="749" height="250" stroke-width="2"/>
<rect x="71.5" y="716.5" width="749" height="250" stroke-width="2"/>
</g>
<g id="tk1" stroke="#000" fill="none">
<line x1="71" y1="327" x2="822" y2="327" stroke-width="4" stroke-dasharray="1 30.208"/>
<line x1="71" y1="328.5" x2="822" y2="328.5" stroke-width="7" stroke-dasharray="1 92.625"/>
<line x1="71" y1="73" x2="822" y2="73" stroke-width="4" stroke-dasharray="1 30.208"/>
<line x1="71" y1="71.5" x2="822" y2="71.5" stroke-width="7" stroke-dasharray="1 92.625"/>
<line x1="69" y1="74.5" x2="69" y2="327" stroke-width="5" stroke-dasharray="1 9.4167"/>
<line x1="67" y1="74.5" x2="67" y2="327" stroke-width="9" stroke-dasharray="1 30.25"/>
<line x1="822.5" y1="74.5" x2="822.5" y2="327" stroke-width="4" stroke-dasharray="1 9.4167"/>
<line x1="824" y1="74.5" x2="824" y2="327" stroke-width="7" stroke-dasharray="1 30.25"/>
</g>
<use href="#tk1" transform="translate(0,321)"/>
<use href="#tk1" transform="translate(0,641.5)"/>

<!-- texts -->
<g font-family="'Liberation Sans', Arial, sans-serif" fill="#000">
<text x="491" y="27" font-size="25" text-anchor="middle">OLR</text>
<text x="70" y="63" font-size="25.5">17-Jun-2015 to 23-Jun-2015</text>
<text x="70" y="384.5" font-size="25.5">24-Jun-2015 to 30-Jun-2015</text>
<text x="70" y="704.5" font-size="25.5">1-Jul-2015 to 7-Jul-2015</text>
<g id="yl1" font-size="23" text-anchor="end">
<text x="45" y="83">60N</text><text x="45" y="114.25">45N</text><text x="45" y="145.5">30N</text><text x="45" y="176.75">15N</text>
<text x="45" y="208">0</text><text x="45" y="239.25">15S</text><text x="45" y="270.5">30S</text><text x="45" y="301.75">45S</text><text x="45" y="333">60S</text>
</g>
<use href="#yl1" transform="translate(0,321)"/>
<use href="#yl1" transform="translate(0,641.5)"/>
<g font-size="24" text-anchor="middle">
<text x="71.5" y="1011">0</text><text x="165.1" y="1011">45E</text><text x="258.75" y="1011">90E</text><text x="352.4" y="1011">135E</text>
<text x="446" y="1011">180</text><text x="539.6" y="1011">135W</text><text x="633.25" y="1011">90W</text><text x="726.9" y="1011">45W</text><text x="820.5" y="1011">0</text>
</g>
<text x="927" y="253" font-size="21" text-anchor="middle">W/m^2</text>
<g font-size="20">
<text x="945" y="343">330</text><text x="945" y="368.2">320</text><text x="945" y="393.4">310</text><text x="945" y="418.6">300</text>
<text x="945" y="443.8">290</text><text x="945" y="469">280</text><text x="945" y="494.2">270</text><text x="945" y="519.4">260</text>
<text x="945" y="544.6">250</text><text x="945" y="569.8">240</text><text x="945" y="595">230</text><text x="945" y="620.2">220</text>
<text x="945" y="645.4">210</text><text x="945" y="670.6">200</text><text x="945" y="695.8">190</text><text x="945" y="721">180</text>
<text x="945" y="746.2">170</text><text x="945" y="771.4">160</text><text x="945" y="796.6">150</text>
</g>
</g>

<!-- colorbar -->
<g stroke="#000" stroke-width="1">
<rect x="874" y="311" width="54" height="25.2" fill="#d2691e"/>
<rect x="874" y="336.2" width="54" height="25.2" fill="#e23a14"/>
<rect x="874" y="361.4" width="54" height="25.2" fill="#cc0000"/>
<rect x="874" y="386.6" width="54" height="25.2" fill="#5c0000"/>
<rect x="874" y="411.8" width="54" height="25.2" fill="#3a0000"/>
<rect x="874" y="437" width="54" height="25.2" fill="#1e1e1e"/>
<rect x="874" y="462.2" width="54" height="25.2" fill="#262626"/>
<rect x="874" y="487.4" width="54" height="25.2" fill="#2f2f2f"/>
<rect x="874" y="512.6" width="54" height="25.2" fill="#3c3c3c"/>
<rect x="874" y="537.8" width="54" height="25.2" fill="#474747"/>
<rect x="874" y="563" width="54" height="25.2" fill="#555555"/>
<rect x="874" y="588.2" width="54" height="25.2" fill="#6a6a6a"/>
<rect x="874" y="613.4" width="54" height="25.2" fill="#888888"/>
<rect x="874" y="638.6" width="54" height="25.2" fill="#a3a3a3"/>
<rect x="874" y="663.8" width="54" height="25.2" fill="#d2ecee"/>
<rect x="874" y="689" width="54" height="25.2" fill="#add8e6"/>
<rect x="874" y="714.2" width="54" height="25.2" fill="#5aaaea"/>
<rect x="874" y="739.4" width="54" height="25.2" fill="#1a73d0"/>
<rect x="874" y="764.6" width="54" height="25.2" fill="#13498a"/>
<rect x="874" y="789.8" width="54" height="25.2" fill="#18186e"/>
</g>
</svg>
</body></html>
